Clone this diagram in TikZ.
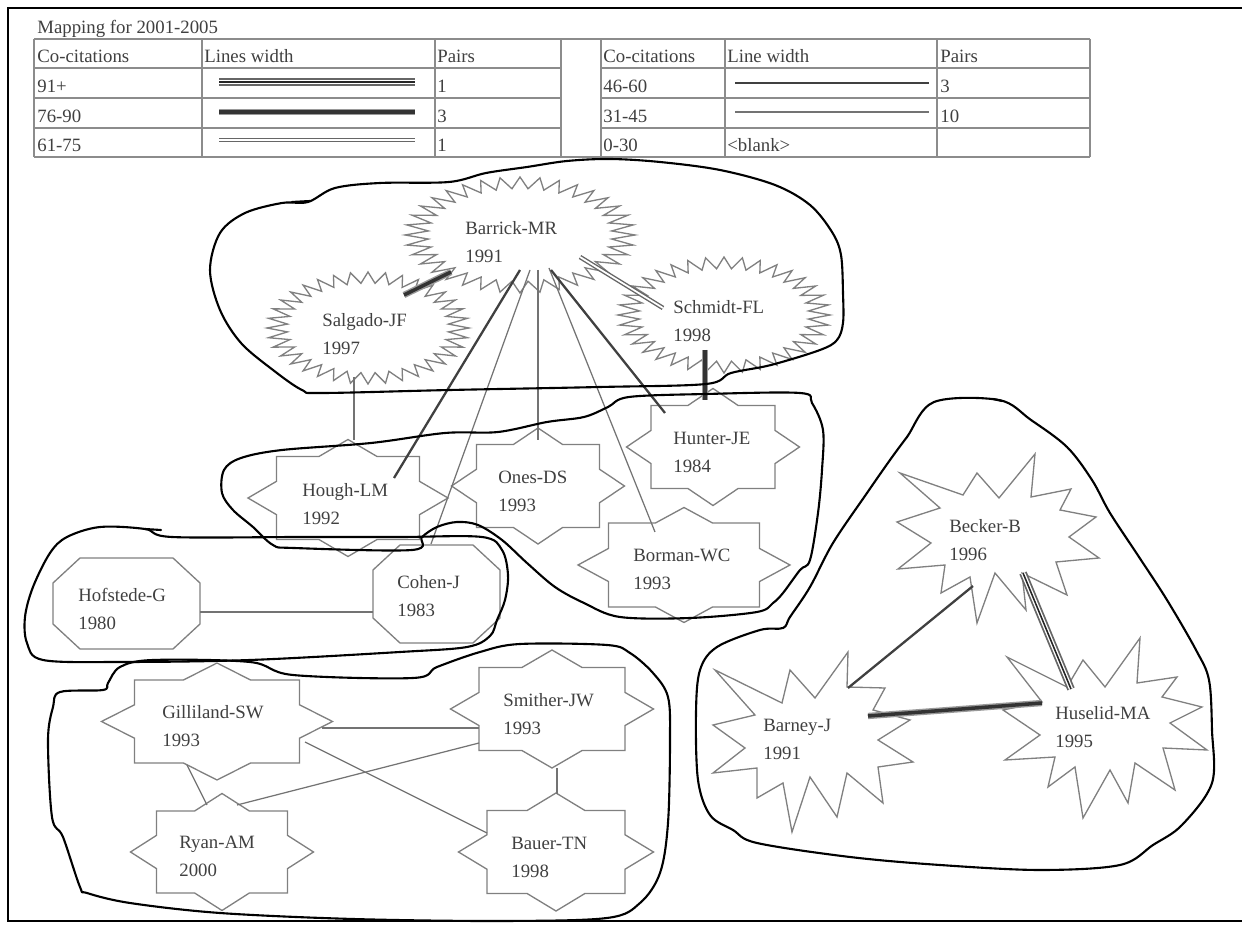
\documentclass[tikz,border=0pt]{standalone}
\usepackage{fontspec}
\setmainfont{Liberation Serif}
\usetikzlibrary{positioning}

% 図形のマクロ
\newcommand{\zigzag}[4]{% 中心x, 中心y, 半径x, 半径y
  \draw[outline] ({#1+#3},#2)
    \foreach \k in {1,...,71}{ -- ({#1+(1-0.2*mod(\k,2))*#3*cos(5*\k)},{#2+(1-0.2*mod(\k,2))*#4*sin(5*\k)}) } -- cycle;}
\newcommand{\starbox}[6]{% 中心x, 中心y, 矩形a, 矩形b, 菱形A, 菱形B
  \draw[outline] ({#1+#5},#2)
    -- ({#1+#3},{#2+#6*(1-#3/#5)}) -- ({#1+#3},{#2+#4}) -- ({#1+#5*(1-#4/#6)},{#2+#4})
    -- (#1,{#2+#6}) -- ({#1-#5*(1-#4/#6)},{#2+#4}) -- ({#1-#3},{#2+#4}) -- ({#1-#3},{#2+#6*(1-#3/#5)})
    -- ({#1-#5},#2) -- ({#1-#3},{#2-#6*(1-#3/#5)}) -- ({#1-#3},{#2-#4}) -- ({#1-#5*(1-#4/#6)},{#2-#4})
    -- (#1,{#2-#6}) -- ({#1+#5*(1-#4/#6)},{#2-#4}) -- ({#1+#3},{#2-#4}) -- ({#1+#3},{#2-#6*(1-#3/#5)}) -- cycle;}
\newcommand{\octbox}[6]{% 中心x, 中心y, 半幅, 半高, 角x, 角y
  \draw[outline] ({#1-#3+#5},{#2-#4}) -- ({#1+#3-#5},{#2-#4}) -- ({#1+#3},{#2-#4+#6}) -- ({#1+#3},{#2+#4-#6})
    -- ({#1+#3-#5},{#2+#4}) -- ({#1-#3+#5},{#2+#4}) -- ({#1-#3},{#2+#4-#6}) -- ({#1-#3},{#2-#4+#6}) -- cycle;}

\begin{document}
\begin{tikzpicture}[x=0.02cm, y=-0.02cm,
    outline/.style={draw=black!50, line width=0.75pt, line join=miter},
    pen/.style={draw=black, line width=1.2pt, line join=round, line cap=round},
    grid/.style={draw=black!45, line width=0.6pt},
    lbl/.style={anchor=west, align=left, inner sep=0pt, text=black!75, font=\fontsize{10.7}{16}\selectfont},
    cell/.style={anchor=base west, inner sep=0pt, text=black!75, font=\fontsize{10.7}{13}\selectfont},
    cc91/.style={draw=white, line width=2.4pt, preaction={draw=black!60, line width=4.4pt}, postaction={draw=black!85, line width=0.9pt}},
    cc76/.style={draw=black!80, line width=2pt, preaction={draw=black!40, line width=3.6pt}},
    cc61/.style={draw=white, line width=1pt, preaction={draw=black!60, line width=2.6pt}},
    cc46/.style={draw=black!75, line width=1.3pt},
    cc31/.style={draw=black!55, line width=0.7pt}]

    \path[fill=white] (0,0) rectangle (1242,925);
    \useasboundingbox (0,0) rectangle (1242,925);

    % 枠
    \draw[line width=1.6pt] (1242,8) -- (8,8) -- (8,921) -- (1242,921);

    % 凡例の表
    \node[cell] (title) at (37,34) {Mapping for 2001-2005};
    \foreach \y in {39,157} \draw[grid] (34,\y) -- (1090,\y);
    \foreach \y in {68,98,128} {\draw[grid] (34,\y) -- (561,\y); \draw[grid] (601,\y) -- (1090,\y);}
    \foreach \x in {34,202,435,561,601,725,937,1090} \draw[grid] (\x,39) -- (\x,157);

    \node[cell] (hA) at (37,63) {Co-citations};
    \node[cell] (hB) at (204,63) {Lines width};
    \node[cell] (hC) at (437,63) {Pairs};
    \node[cell] (hD) at (603,63) {Co-citations};
    \node[cell] (hE) at (727,63) {Line width};
    \node[cell] (hF) at (940,63) {Pairs};
    \node[cell] (r1a) at (37,93) {91+};
    \node[cell] (r2a) at (37,123) {76-90};
    \node[cell] (r3a) at (37,152) {61-75};
    \node[cell] (r1c) at (437,93) {1};
    \node[cell] (r2c) at (437,123) {3};
    \node[cell] (r3c) at (437,152) {1};
    \node[cell] (r1d) at (603,93) {46-60};
    \node[cell] (r2d) at (603,123) {31-45};
    \node[cell] (r3d) at (603,152) {0-30};
    \node[cell] (r3e) at (727,152) {<blank>};
    \node[cell] (r1f) at (940,93) {3};
    \node[cell] (r2f) at (940,123) {10};

    \coordinate (s91a) at (219,82);  \coordinate (s91b) at (415,82);
    \coordinate (s76a) at (219,112); \coordinate (s76b) at (415,112);
    \coordinate (s61a) at (219,140); \coordinate (s61b) at (415,140);
    \coordinate (s46a) at (735,83);  \coordinate (s46b) at (929,83);
    \coordinate (s31a) at (735,112); \coordinate (s31b) at (929,112);
    \draw[cc91] (s91a) -- (s91b);
    \draw[cc76] (s76a) -- (s76b);
    \draw[cc61] (s61a) -- (s61b);
    \draw[cc46] (s46a) -- (s46b);
    \draw[cc31] (s31a) -- (s31b);

    % 図形
    \zigzag{520}{235}{115}{58}
    \zigzag{368}{328}{101}{56}
    \zigzag{724}{315}{106}{58}
    \starbox{348}{498}{71.5}{41.5}{100}{58.5}
    \starbox{538}{486}{61.5}{41.5}{86.5}{58}
    \starbox{713}{447}{62}{41.5}{86.5}{58.5}
    \starbox{684}{565}{75.5}{42}{106}{57.5}
    \starbox{217}{721.5}{82.5}{41.5}{115.5}{58.5}
    \starbox{222}{852}{65.5}{41}{91.5}{58.5}
    \starbox{552}{709}{73}{41.5}{101.5}{59}
    \starbox{556}{852}{69}{41.5}{97.5}{59}
    \octbox{436.5}{594}{63.5}{49}{27}{25}
    \octbox{126.5}{603.5}{73.5}{45.5}{27}{25}
    \draw[outline] (900,473) -- (963,495) -- (977,473) -- (999,498) -- (1035,454) -- (1031,497)
      -- (1071,489) -- (1060,510) -- (1096,517) -- (1069,537) -- (1099,558) -- (1056,562)
      -- (1067,595) -- (1022,573) -- (1026,610) -- (995,573) -- (977,623) -- (970,577)
      -- (941,593) -- (945,565) -- (898,569) -- (931,543) -- (897,522) -- (940,508) -- cycle;
    \draw[outline] (715,670) -- (782,703) -- (790,670) -- (815,698) -- (848,652) -- (847,687)
      -- (885,688) -- (873,710) -- (910,720) -- (878,740) -- (913,762) -- (878,767)
      -- (883,803) -- (847,773) -- (837,817) -- (810,777) -- (792,832) -- (783,783)
      -- (757,798) -- (757,768) -- (713,773) -- (745,748) -- (713,725) -- (755,715) -- cycle;
    \draw[outline] (1007,657) -- (1067,687) -- (1083,660) -- (1105,687) -- (1140,638) -- (1137,683)
      -- (1177,677) -- (1162,697) -- (1202,707) -- (1170,723) -- (1207,750) -- (1163,748)
      -- (1175,790) -- (1135,763) -- (1128,803) -- (1110,770) -- (1083,818) -- (1075,767)
      -- (1048,787) -- (1055,757) -- (1005,760) -- (1040,735) -- (1003,710) -- (1042,702) -- cycle;

    % ノード
    \node[lbl] (barrick) at (465,242.5) {Barrick-MR\\1991};
    \node[lbl] (salgado) at (322,334) {Salgado-JF\\1997};
    \node[lbl] (schmidt) at (673,321) {Schmidt-FL\\1998};
    \node[lbl] (hough) at (302,504) {Hough-LM\\1992};
    \node[lbl] (ones) at (498,491) {Ones-DS\\1993};
    \node[lbl] (hunter) at (673,452) {Hunter-JE\\1984};
    \node[lbl] (borman) at (633,569) {Borman-WC\\1993};
    \node[lbl] (cohen) at (397,596) {Cohen-J\\1983};
    \node[lbl] (hofstede) at (78,609) {Hofstede-G\\1980};
    \node[lbl] (gilliland) at (162,726) {Gilliland-SW\\1993};
    \node[lbl] (ryan) at (179,856) {Ryan-AM\\2000};
    \node[lbl] (smither) at (503,714) {Smither-JW\\1993};
    \node[lbl] (bauer) at (511,857) {Bauer-TN\\1998};
    \node[lbl] (becker) at (949,540) {Becker-B\\1996};
    \node[lbl] (barney) at (763,739) {Barney-J\\1991};
    \node[lbl] (huselid) at (1055,727.5) {Huselid-MA\\1995};

    % 共引用の線
    \draw[cc76] ([shift={(-14,29.5)}]barrick.west) -- ([shift={(82,-39)}]salgado.west);
    \draw[cc61] ([shift={(115,14.5)}]barrick.west) -- ([shift={(-10,-13)}]schmidt.west);
    \draw[cc76] ([shift={(32,29)}]schmidt.west) -- ([shift={(32,-52)}]hunter.west);
    \draw[cc46] ([shift={(55,27.5)}]barrick.west) -- ([shift={(92,-26)}]hough.west);
    \draw[cc31] ([shift={(65,27.5)}]barrick.west) -- ([shift={(34,-52)}]cohen.west);
    \draw[cc31] ([shift={(73,27.5)}]barrick.west) -- ([shift={(40,-51)}]ones.west);
    \draw[cc31] ([shift={(84,25.5)}]barrick.west) -- ([shift={(22,-37)}]borman.west);
    \draw[cc46] ([shift={(86,27.5)}]barrick.west) -- ([shift={(-8,-39)}]hunter.west);
    \draw[cc31] ([shift={(32,43)}]salgado.west) -- ([shift={(52,-64)}]hough.west);
    \draw[cc31] ([shift={(122,3)}]hofstede.west) -- ([shift={(-24,16)}]cohen.west);
    \draw[cc31] ([shift={(160,2)}]gilliland.west) -- ([shift={(-24,14)}]smither.west);
    \draw[cc31] ([shift={(143,16)}]gilliland.west) -- ([shift={(-24,-24)}]bauer.west);
    \draw[cc31] ([shift={(25,39)}]gilliland.west) -- ([shift={(28,-51)}]ryan.west);
    \draw[cc31] ([shift={(58,-51)}]ryan.west) -- ([shift={(-24,29)}]smither.west);
    \draw[cc31] ([shift={(54,54)}]smither.west) -- ([shift={(46,-63)}]bauer.west);
    \draw[cc46] ([shift={(24,46)}]becker.west) -- ([shift={(85,-51)}]barney.west);
    \draw[cc91] ([shift={(74,33)}]becker.west) -- ([shift={(16,-38.5)}]huselid.west);
    \draw[cc76] ([shift={(105,-23)}]barney.west) -- ([shift={(-13,-24.5)}]huselid.west);

    % 手書きの囲み
    \draw[pen] plot[smooth cycle, tension=0.55] coordinates {(308,202) (335,188) (380,183) (449,182)
      (486,173) (527,167) (567,161) (610,159) (660,162) (720,170) (775,185) (810,205) (832,232)
      (841,255) (843,293) (843,323) (837,340) (820,350) (771,365) (731,373) (706,384) (600,387)
      (450,390) (322,393) (302,390) (273,370) (241,343) (220,310) (210,270) (220,233) (245,213) (282,203)};
    \draw[pen] plot[smooth cycle, tension=0.55] coordinates {(800,393) (706,394) (629,397) (608,407)
      (584,417) (547,422) (498,432) (445,433) (371,443) (282,450) (241,458) (224,470) (222,493)
      (233,510) (253,527) (273,545) (294,548) (412,550) (422,537) (437,527) (457,522) (478,525)
      (502,540) (527,563) (555,587) (584,603) (620,617) (690,618) (757,612) (773,603) (783,593)
      (800,570) (810,560) (818,513) (822,470) (823,430) (812,403)};
    \draw[pen] plot[smooth cycle, tension=0.55] coordinates {(172,537) (300,537) (400,537) (482,537)
      (502,550) (508,575) (505,600) (497,620) (490,636) (467,647) (400,652) (250,660) (120,662)
      (43,660) (27,643) (25,617) (33,587) (50,553) (67,537) (100,527) (145,529)};
    \draw[pen] plot[smooth cycle, tension=0.55] coordinates {(60,692) (103,690) (108,683) (120,667)
      (153,660) (250,662) (293,675) (413,678) (437,667) (480,652) (520,644) (607,645) (630,653)
      (653,673) (668,697) (670,740) (668,823) (660,873) (640,903) (607,918) (500,921) (353,919)
      (220,913) (130,903) (87,893) (80,887) (63,837) (52,817) (48,740) (53,707)};
    \draw[pen] plot[smooth cycle, tension=0.55] coordinates {(934,402) (999,400) (1031,420) (1067,447)
      (1092,480) (1110,513) (1139,557) (1167,600) (1196,650) (1209,680) (1212,730) (1212,783)
      (1182,825) (1153,845) (1120,865) (1040,870) (940,865) (850,857) (757,843) (733,830) (710,815)
      (698,780) (696,713) (700,670) (717,647) (760,630) (783,628) (790,617) (810,587) (833,543)
      (867,493) (890,460) (907,437)};
    % ペンの書き始め
    \draw[pen] (292,202) -- (310,201);
    \draw[pen] (145,529) -- (161,530);
    \draw[pen] (993,399) -- (1002,401);
\end{tikzpicture}
\end{document}
